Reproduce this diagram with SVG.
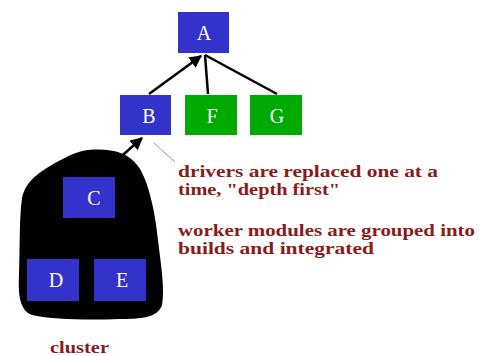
<svg xmlns="http://www.w3.org/2000/svg" width="479" height="356" viewBox="0 0 479 356">
<style>
.blue{fill:#3333cc}
.green{fill:#00aa00}
.lbl{font-family:"Liberation Serif",serif;font-size:20px;fill:#ffffff;text-anchor:middle}
.note{font-family:"Liberation Serif",serif;font-size:16px;font-weight:bold;fill:#8b1a1a}
.edge{stroke:#000;stroke-width:2.5;fill:none}
</style>
<defs>
<marker id="arr" viewBox="0 0 10 10" refX="9" refY="5" markerWidth="5" markerHeight="5" orient="auto" markerUnits="strokeWidth">
<path d="M0,0 L10,5 L0,10 Z" fill="#000"/>
</marker>
</defs>
<rect width="479" height="356" fill="#fff"/>
<g id="cluster">
<path d="M 88 150 C 110 148 128 152 138 166 C 148 180 155 210 158 240 C 161 265 165 290 162 305 C 158 318 140 319 120 319 C 90 320 55 320 32 315 C 20 311 18 295 19 275 C 20 250 19 220 22 198 C 26 180 40 172 55 163 C 68 156 78 151 88 150 Z" fill="#000"/>
</g>
<g id="connectors">
<line class="edge" x1="149" y1="94" x2="201" y2="56" marker-end="url(#arr)"/>
<line class="edge" x1="208" y1="94" x2="205" y2="55"/>
<line class="edge" x1="277" y1="94" x2="205" y2="55"/>
<line class="edge" x1="116" y1="161" x2="142" y2="138" marker-end="url(#arr)"/>
<line x1="154" y1="143" x2="175" y2="162" stroke="#999" stroke-width="1"/>
</g>
<g id="A"><rect class="blue" x="178" y="12" width="51" height="41"/><text class="lbl" x="204" y="40">A</text></g>
<g id="B"><rect class="blue" x="120" y="95" width="51" height="40"/><text class="lbl" x="149" y="123">B</text></g>
<g id="F"><rect class="green" x="185" y="95" width="52" height="40"/><text class="lbl" x="212" y="123">F</text></g>
<g id="G"><rect class="green" x="250" y="95" width="52" height="40"/><text class="lbl" x="277" y="123">G</text></g>
<g id="C"><rect class="blue" x="63" y="177" width="52" height="41"/><text class="lbl" x="94" y="205">C</text></g>
<g id="D"><rect class="blue" x="27" y="259" width="52" height="42"/><text class="lbl" x="56" y="287">D</text></g>
<g id="E"><rect class="blue" x="94" y="259" width="52" height="42"/><text class="lbl" x="122" y="287">E</text></g>
<g id="notes">
<text class="note" x="178" y="177" textLength="260" lengthAdjust="spacingAndGlyphs">drivers are replaced one at a</text>
<text class="note" x="178" y="195" textLength="162" lengthAdjust="spacingAndGlyphs">time, "depth first"</text>
<text class="note" x="178" y="236" textLength="297" lengthAdjust="spacingAndGlyphs">worker modules are grouped into</text>
<text class="note" x="178" y="254" textLength="196" lengthAdjust="spacingAndGlyphs">builds and integrated</text>
<text class="note" x="50" y="353" textLength="59" lengthAdjust="spacingAndGlyphs">cluster</text>
</g>
</svg>
